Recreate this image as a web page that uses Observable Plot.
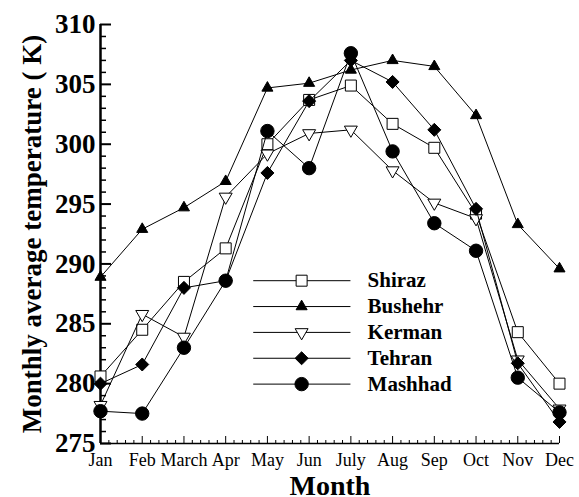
<!DOCTYPE html>
<html>
<head>
<meta charset="utf-8">
<script src="https://cdn.jsdelivr.net/npm/d3@7"></script>
<script src="https://cdn.jsdelivr.net/npm/@observablehq/plot@0.6"></script>
<style>
  html, body { margin: 0; padding: 0; background: white; }
</style>
</head>
<body>
<div id="chart"></div>
<script>
const months = ["Jan","Feb","March","Apr","May","Jun","July","Aug","Sep","Oct","Nov","Dec"];
const shiraz  = [280.6,284.5,288.5,291.3,300.0,303.7,304.9,301.7,299.7,294.2,284.3,280.0];
const bushehr = [288.9,292.9,294.7,296.9,304.7,305.1,306.2,307.0,306.5,302.4,293.3,289.6];
const kerman  = [278.2,285.8,283.9,295.6,299.2,300.9,301.2,297.8,295.1,293.8,282.0,277.9];
const tehran  = [280.0,281.6,288.0,288.6,297.6,303.6,307.0,305.2,301.2,294.6,281.7,276.8];
const mashhad = [277.7,277.5,283.0,288.6,301.1,298.0,307.6,299.4,293.4,291.1,280.5,277.6];
const seriesNames = ["Shiraz","Bushehr","Kerman","Tehran","Mashhad"];
const yMajor = [275,280,285,290,295,300,305,310];
const yLabel = "Monthly average temperature ( K)";
const xLabel = "Month";

// custom symbols
const symbolDown = {draw(ctx, size) {
  const y = Math.sqrt(size / (Math.sqrt(3) * 3));
  ctx.moveTo(0, 2 * y); ctx.lineTo(-Math.sqrt(3) * y, -y); ctx.lineTo(Math.sqrt(3) * y, -y); ctx.closePath();
}};
const symbolDiamond = {draw(ctx, size) {
  const d = Math.sqrt(size / 2);
  ctx.moveTo(0, -d); ctx.lineTo(d, 0); ctx.lineTo(0, d); ctx.lineTo(-d, 0); ctx.closePath();
}};

const styles = [
  {symbol: "square",   r: 6.2, fill: "white"},
  {symbol: "triangle", r: 4.1, fill: "black"},
  {symbol: symbolDown, r: 4.8, fill: "white"},
  {symbol: symbolDiamond, r: 5.2, fill: "black"},
  {symbol: "circle",   r: 6.7, fill: "black"}
];
const values = [shiraz, bushehr, kerman, tehran, mashhad];

const W = 579, H = 497;
const mL = 100, mR = 20, mT = 24, mB = 54;
const plotW = W - mL - mR, plotH = H - mT - mB;

// legend layout (in chart units)
const legend = {x1: 3.66, x2: 5.99, xm: 4.82, xt: 6.40, yTop: 288.6, step: 2.16};

const marks = [];
// axis lines
marks.push(Plot.ruleY([275], {stroke: "black", strokeWidth: 1.5}));
marks.push(Plot.ruleX([0], {stroke: "black", strokeWidth: 2.5}));
// y ticks inward
marks.push(Plot.tickY(d3.range(275, 311, 1).filter(v => v % 5 !== 0), {y: d => d, stroke: "black", strokeWidth: 1.5, insetRight: plotW - 6}));
marks.push(Plot.tickY(yMajor, {y: d => d, stroke: "black", strokeWidth: 2, insetRight: plotW - 11}));
// x ticks inward
marks.push(Plot.tickX(d3.range(0, 11.001, 0.2).filter(v => Math.abs(v - Math.round(v)) > 1e-6), {x: d => d, stroke: "black", strokeWidth: 1, insetTop: plotH - 3}));
marks.push(Plot.tickX(d3.range(12), {x: d => d, stroke: "black", strokeWidth: 1, insetTop: plotH - 7}));
// axis labels
marks.push(Plot.axisY({ticks: yMajor, tickSize: 0, tickPadding: 5, fontSize: 27, fontWeight: "bold", label: null}));
marks.push(Plot.axisX({ticks: d3.range(12), tickFormat: i => months[i], tickSize: 0, tickPadding: 10, fontSize: 18, label: null}));
marks.push(Plot.text([yLabel], {frameAnchor: "left", textAnchor: "middle", rotate: -90, dx: -68, fontSize: 27, fontWeight: "bold", lineAnchor: "middle"}));
marks.push(Plot.text([xLabel], {frameAnchor: "bottom", dy: 51, lineAnchor: "bottom", fontSize: 28, fontWeight: "bold"}));

// series
values.forEach((vals, k) => {
  const data = vals.map((v, i) => ({i, v}));
  marks.push(Plot.line(data, {x: "i", y: "v", stroke: "black", strokeWidth: 1}));
  marks.push(Plot.dot(data, {x: "i", y: "v", symbol: styles[k].symbol, r: styles[k].r, fill: styles[k].fill, stroke: "black", strokeWidth: 1}));
});

// legend
seriesNames.forEach((name, k) => {
  const row = [{name, y: legend.yTop - k * legend.step}];
  marks.push(Plot.link(row, {x1: () => legend.x1, x2: () => legend.x2, y1: "y", y2: "y", stroke: "black", strokeWidth: 1}));
  marks.push(Plot.dot(row, {x: () => legend.xm, y: "y", symbol: styles[k].symbol, r: styles[k].r, fill: styles[k].fill, stroke: "black", strokeWidth: 1}));
  marks.push(Plot.text(row, {x: () => legend.xt, y: "y", text: "name", textAnchor: "start", lineAnchor: "middle", fontSize: 21, fontWeight: "bold"}));
});

const chart = Plot.plot({
  width: W, height: H,
  marginLeft: mL, marginRight: mR, marginTop: mT, marginBottom: mB,
  x: {type: "linear", domain: [0, 11], axis: null},
  y: {domain: [275, 310], axis: null},
  style: {fontFamily: "'Liberation Serif', 'Times New Roman', serif", background: "white", color: "black", overflow: "visible"},
  marks
});
document.getElementById("chart").appendChild(chart);
</script>
</body>
</html>
